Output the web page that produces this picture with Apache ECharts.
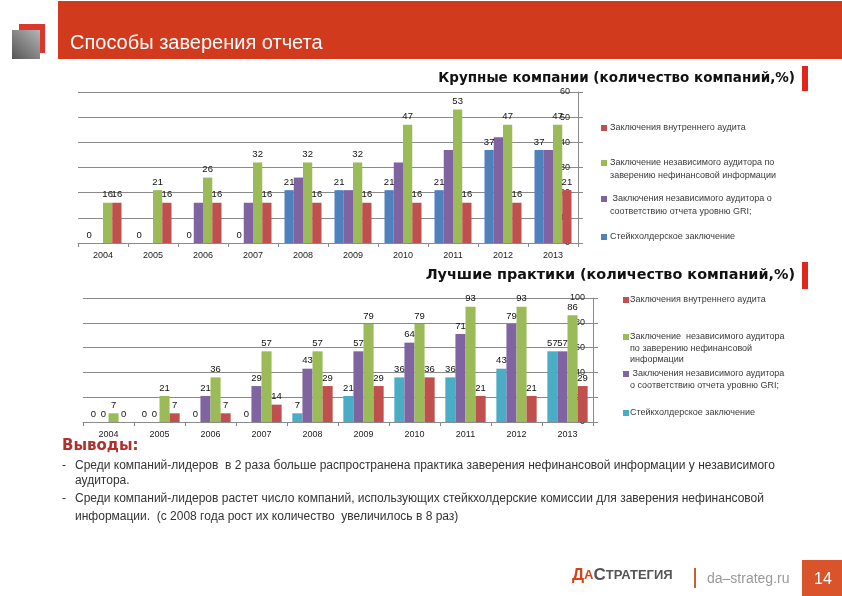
<!DOCTYPE html>
<html><head><meta charset="utf-8">
<script src="https://cdn.jsdelivr.net/npm/echarts@6/dist/echarts.min.js"></script>
<style>html,body{margin:0;padding:0;background:#fff}#c{width:842px;height:596px}</style>
</head><body><div id="c"></div>
<script>
// ---- data ----
const years = ['2004','2005','2006','2007','2008','2009','2010','2011','2012','2013'];
const seriesNames = ['Стейкхолдерское заключение',
  'Заключения независимого аудитора о соответствию отчета уровню GRI;',
  'Заключение независимого аудитора по заверению нефинансовой информации',
  'Заключения внутреннего аудита'];
// Крупные компании (%)
const largeStakeholder = [0,0,0,0,21,21,21,21,37,37];
const largeGRI         = [0,0,16,16,26,21,32,37,42,37];
const largeIndependent = [16,21,26,32,32,32,47,53,47,47];
const largeInternal    = [16,16,16,16,16,16,16,16,16,21];
// Лучшие практики (%)
const bestStakeholder  = [0,0,0,0,7,21,36,36,43,57];
const bestGRI          = [0,0,21,29,43,57,64,71,79,57];
const bestIndependent  = [7,21,36,57,57,79,79,93,93,86];
const bestInternal     = [0,7,7,14,29,29,36,21,21,29];
const largeTicks = {min:0, max:60, interval:10};
const bestTicks  = {min:0, max:100, interval:20};

const title1 = 'Крупные компании (количество компаний,%)';
const title2 = 'Лучшие практики (количество компаний,%)';
const legend1Lines = [['Заключения внутреннего аудита'],
  ['Заключение независимого аудитора по','заверению нефинансовой информации'],
  [' Заключения независимого аудитора о','соответствию отчета уровню GRI;'],
  ['Стейкхолдерское заключение']];
const legend2Lines = [['Заключения внутреннего аудита'],
  ['Заключение  независимого аудитора','по заверению нефинансовой','информации'],
  [' Заключения независимого аудитора','о соответствию отчета уровню GRI;'],
  ['Стейкхолдерское заключение']];
const conclusions = [
  ['Среди компаний-лидеров  в 2 раза больше распространена практика заверения нефинансовой информации у независимого','аудитора.'],
  ['Среди компаний-лидеров растет число компаний, использующих стейкхолдерские комиссии для заверения нефинансовой','информации.  (с 2008 года рост их количество  увеличилось в 8 раз)']
];

// ---- styling ----
const C = {blue:'#4f81bd', purple:'#8064a2', green:'#9bbb59', red:'#c0504d', cyan:'#4bacc6'};
const FF = 'Liberation Sans';
const chart = echarts.init(document.getElementById('c'), null, {renderer:'canvas'});

function bar(name, data, color, idx, showLabel){
  return {type:'bar', name, data, xAxisIndex:idx, yAxisIndex:idx,
    itemStyle:{color}, barGap:'0%', barCategoryGap: idx ? '21%' : '26%',
    label:{show:showLabel, position:'top', distance:3, fontSize:9.5, color:'#111', fontFamily:FF},
    animation:false};
}
function xAx(idx){
  return {gridIndex:idx, type:'category', data:years,
    axisLine:{lineStyle:{color:'#8a8a8a'}},
    axisTick:{show:true, length:4, lineStyle:{color:'#8a8a8a'}},
    axisLabel:{fontSize:9, color:'#222', margin:8, fontFamily:FF}};
}
function yAx(idx, t){
  return {gridIndex:idx, type:'value', position:'right', min:t.min, max:t.max, interval:t.interval,
    axisLine:{show:true, lineStyle:{color:'#8a8a8a'}},
    axisTick:{show:true, length:5, lineStyle:{color:'#8a8a8a'}},
    axisLabel:{inside:true, margin:8, fontSize:9, color:'#222', fontFamily:FF},
    splitLine:{lineStyle:{color:'#8a8a8a'}}};
}

const g = [];
// header
g.push({type:'rect', shape:{x:58,y:1,width:784,height:58}, style:{fill:'#d23a1e'}});
g.push({type:'rect', shape:{x:19,y:24,width:26,height:29}, style:{fill:'#d9382a'}});
g.push({type:'rect', shape:{x:12,y:30,width:28,height:29}, style:{fill:new echarts.graphic.LinearGradient(1,0,0,1,[{offset:0,color:'#b5b5b5'},{offset:1,color:'#555'}])}});
g.push({type:'text', x:70, y:43, style:{text:'Способы заверения отчета', fill:'#fff', font:'20px "Liberation Sans"', verticalAlign:'middle'}});
// chart titles
g.push({type:'text', x:795, y:78, style:{text:title1, fill:'#111', font:'bold 13.5px "DejaVu Sans"', align:'right', verticalAlign:'middle'}});
g.push({type:'rect', shape:{x:802,y:66,width:6,height:25}, style:{fill:'#e0261c'}});
g.push({type:'text', x:795, y:275, style:{text:title2, fill:'#111', font:'bold 14.4px "DejaVu Sans"', align:'right', verticalAlign:'middle'}});
g.push({type:'rect', shape:{x:802,y:262,width:6,height:27}, style:{fill:'#e0261c'}});
// legends
function legend(lines, colors, sx, tx, ys, lh){
  lines.forEach((ls,i)=>{
    g.push({type:'rect', shape:{x:sx, y:ys[i]-3, width:6, height:6}, style:{fill:colors[i]}});
    ls.forEach((t,j)=>{
      g.push({type:'text', x:tx, y:ys[i]+j*lh, style:{text:t, fill:'#3a3a3a', font:'9px "Liberation Sans"', verticalAlign:'middle'}});
    });
  });
}
legend(legend1Lines, [C.red,C.green,C.purple,C.blue], 601, 610, [128,163,199,237], 13);
legend(legend2Lines, [C.red,C.green,C.purple,C.cyan], 623, 630, [300,337,374,413], 11.5);
// conclusions
g.push({type:'text', x:62, y:446, style:{text:'Выводы:', fill:'#b22f2a', font:'bold 15px "DejaVu Sans"', verticalAlign:'middle'}});
const cy = [[466,481],[499,517]];
conclusions.forEach((ls,i)=>{
  g.push({type:'text', x:62, y:cy[i][0], style:{text:'-', fill:'#333', font:'12px "Liberation Sans"', verticalAlign:'middle'}});
  ls.forEach((t,j)=>{
    g.push({type:'text', x:75, y:cy[i][j], style:{text:t, fill:'#333', font:'12px "Liberation Sans"', verticalAlign:'middle'}});
  });
});
// footer
g.push({type:'text', x:572, y:584, style:{
  text:'{b|Д}{s|А}{g|С}{gs|ТРАТЕГИЯ}', verticalAlign:'bottom',
  rich:{b:{fontSize:17,fontWeight:'bold',fill:'#d0451b',fontFamily:FF},
        s:{fontSize:13,fontWeight:'bold',fill:'#d0451b',fontFamily:FF},
        g:{fontSize:17,fontWeight:'bold',fill:'#555',fontFamily:FF},
        gs:{fontSize:13,fontWeight:'bold',fill:'#555',fontFamily:FF}}}});
g.push({type:'rect', shape:{x:694,y:568,width:2,height:20}, style:{fill:'#c8602e'}});
g.push({type:'text', x:707, y:579, style:{text:'da–strateg.ru', fill:'#999', font:'14px "Liberation Sans"', verticalAlign:'middle'}});
g.push({type:'rect', shape:{x:802,y:560,width:40,height:36}, style:{fill:'#d9532b'}});
g.push({type:'text', x:823, y:580, style:{text:'14', fill:'#fff', font:'16px "Liberation Sans"', align:'center', verticalAlign:'middle'}});

chart.setOption({
  animation:false,
  backgroundColor:'#fff',
  grid:[{left:78, top:92, width:500, height:151},{left:83, top:298, width:510, height:124}],
  xAxis:[xAx(0), xAx(1)],
  yAxis:[yAx(0, largeTicks), yAx(1, bestTicks)],
  series:[
    bar(seriesNames[0], largeStakeholder, C.blue, 0, true),
    bar(seriesNames[1], largeGRI, C.purple, 0, false),
    bar(seriesNames[2], largeIndependent, C.green, 0, true),
    bar(seriesNames[3], largeInternal, C.red, 0, true),
    bar(seriesNames[0], bestStakeholder, C.cyan, 1, true),
    bar(seriesNames[1], bestGRI, C.purple, 1, true),
    bar(seriesNames[2], bestIndependent, C.green, 1, true),
    bar(seriesNames[3], bestInternal, C.red, 1, true)
  ],
  graphic: g
});
</script></body></html>
